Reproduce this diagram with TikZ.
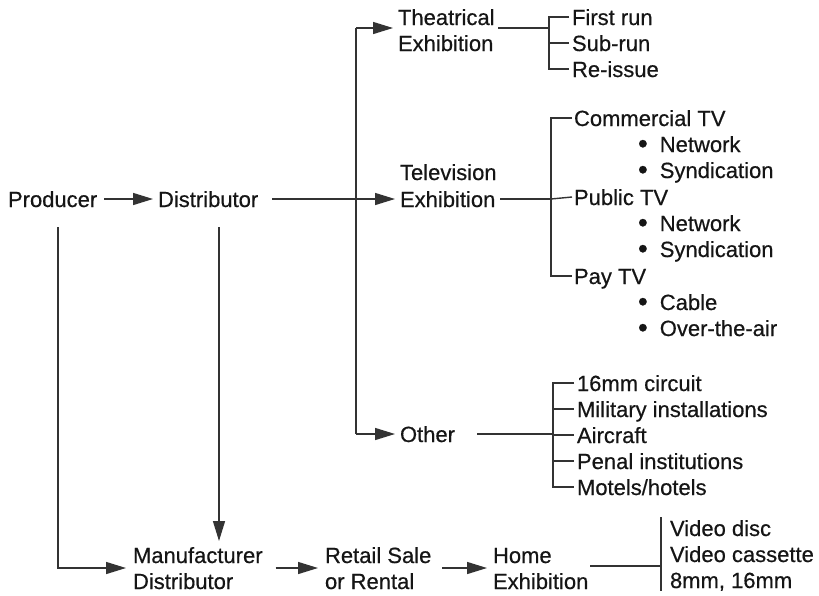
\documentclass[tikz,border=0pt]{standalone}
\usepackage{fontspec}
\setmainfont[FakeBold=0.5]{Liberation Sans}
\usetikzlibrary{arrows.meta,calc}
\definecolor{ink}{HTML}{151515}
\definecolor{wire}{HTML}{333333}
\newcommand{\bul}{{\fontsize{28}{26}\selectfont\raisebox{-1pt}{\textbullet}}\hspace{12pt}}
\begin{document}
\begin{tikzpicture}[x=1pt,y=-1pt,
  lbl/.style={anchor=base west, inner sep=0pt, outer sep=0pt, text height=16pt, text depth=0pt,
              font=\fontsize{22}{26}\selectfont, text=ink},
  ln/.style={draw=wire, line width=1.4pt},
  arr/.style={ln, -{Triangle[length=20pt,width=12pt]}}]
\fill[white] (0,0) rectangle (819,595);
\useasboundingbox (0,0) rectangle (819,595);
% ---- main chain
\node[lbl] (prod) at (8,207) {Producer};
\node[lbl] (dist) at (158,207) {Distributor};
% ---- exhibition branches
\node[lbl] (th1) at (398,25) {Theatrical};
\node[lbl] (th2) at (398,51) {Exhibition};
\node[lbl] (tv1) at (400,180) {Television};
\node[lbl] (tv2) at (400,207) {Exhibition};
\node[lbl] (oth) at (400,442) {Other};
% theatrical list
\node[lbl] (fr) at (572,25) {First run};
\node[lbl] (sr) at (572,51) {Sub-run};
\node[lbl] (ri) at (572,77) {Re-issue};
% tv list
\node[lbl] (ctv) at (574,126) {Commercial TV};
\node[lbl] (n1) at (638,152) {\bul Network};
\node[lbl] (s1) at (638,178) {\bul Syndication};
\node[lbl] (ptv) at (574,205) {Public TV};
\node[lbl] (n2) at (638,231) {\bul Network};
\node[lbl] (s2) at (638,257) {\bul Syndication};
\node[lbl] (pay) at (574,284) {Pay TV};
\node[lbl] (cab) at (638,310) {\bul Cable};
\node[lbl] (ota) at (638,336) {\bul Over-the-air};
% other list
\node[lbl] (o1) at (577,391) {16mm circuit};
\node[lbl] (o2) at (577,417) {Military installations};
\node[lbl] (o3) at (577,443) {Aircraft};
\node[lbl] (o4) at (577,469) {Penal institutions};
\node[lbl] (o5) at (577,495) {Motels/hotels};
% bottom chain
\node[lbl] (mf1) at (133,563) {Manufacturer};
\node[lbl] (mf2) at (133,589) {Distributor};
\node[lbl] (rs1) at (325,563) {Retail Sale};
\node[lbl] (rs2) at (325,589) {or Rental};
\node[lbl] (he1) at (493,563) {Home};
\node[lbl] (he2) at (493,589) {Exhibition};
\node[lbl] (v1) at (670,536) {Video disc};
\node[lbl] (v2) at (670,562) {Video cassette};
\node[lbl] (v3) at (670,588) {8mm, 16mm};
% ---- coordinates
\coordinate (trT) at (356,28);
\coordinate (trB) at (356,434);
\coordinate (thj) at (549,28);
\coordinate (tvj) at (551,199);
\coordinate (oj) at (553,434);
\coordinate (vj) at (661,566);
\coordinate (mfm) at ($(mf1.west)!0.5!(mf2.west)$);
\coordinate (rsm) at ($(rs1.west)!0.5!(rs2.west)$);
\coordinate (hem) at ($(he1.west)!0.5!(he2.west)$);
% ---- connectors
\draw[arr] ($(prod.east)+(7,0)$) -- ($(dist.west)+(-5,0)$);
\draw[ln] ($(dist.east)+(14,0)$) -- (dist.east -| trT);
\draw[ln] (trT) -- (trB);
\draw[arr] (trT) -- ($(trT -| th1.west)+(-5,0)$);
\draw[arr] (dist.east -| trT) -- ($(tv2.west)+(-5,0)$);
\draw[arr] (trB) -- ($(oth.west)+(-5,0)$);
% theatrical bracket
\draw[ln] ($(th2.east |- thj)+(5,0)$) -- (thj);
\draw[ln] ($(fr.west)+(-3,0)$) -| (thj) |- ($(ri.west)+(-3,0)$);
\draw[ln] (sr.west -| thj) -- ($(sr.west)+(-3,0)$);
% tv bracket
\draw[ln] ($(tv2.east)+(5,0)$) -- (tvj);
\draw[ln] ($(ctv.west)+(-2,0)$) -| (tvj) |- ($(pay.west)+(-2,0)$);
\draw[ln] (tvj) -- ($(ptv.west)+(-2,0)$);
% other bracket
\draw[ln] ($(oth.east |- oj)+(22,0)$) -- (oj);
\draw[ln] ($(o1.west)+(-3,0)$) -| (oj) |- ($(o5.west)+(-3,0)$);
\foreach \n in {o2,o3,o4} \draw[ln] (\n.west -| oj) -- ($(\n.west)+(-3,0)$);
% bottom
\draw[arr] ($(prod.south west)+(50,20)$) |- ($(mfm)+(-7,0)$);
\draw[arr] ($(dist.south west)+(61,20)$) -- ($(mf1.north west)+(86,-6)$);
\draw[arr] ($(mf1.east |- mfm)+(13,0)$) -- ($(rsm)+(-7,0)$);
\draw[arr] ($(rs1.east |- rsm)+(11,0)$) -- ($(hem)+(-6,0)$);
\draw[ln] ($(he2.east |- vj)+(2,0)$) -- (vj);
\draw[ln] ($(v1.north west)+(-9,-3)$) -- ($(v3.south west)+(-9,3)$);
\end{tikzpicture}
\end{document}
